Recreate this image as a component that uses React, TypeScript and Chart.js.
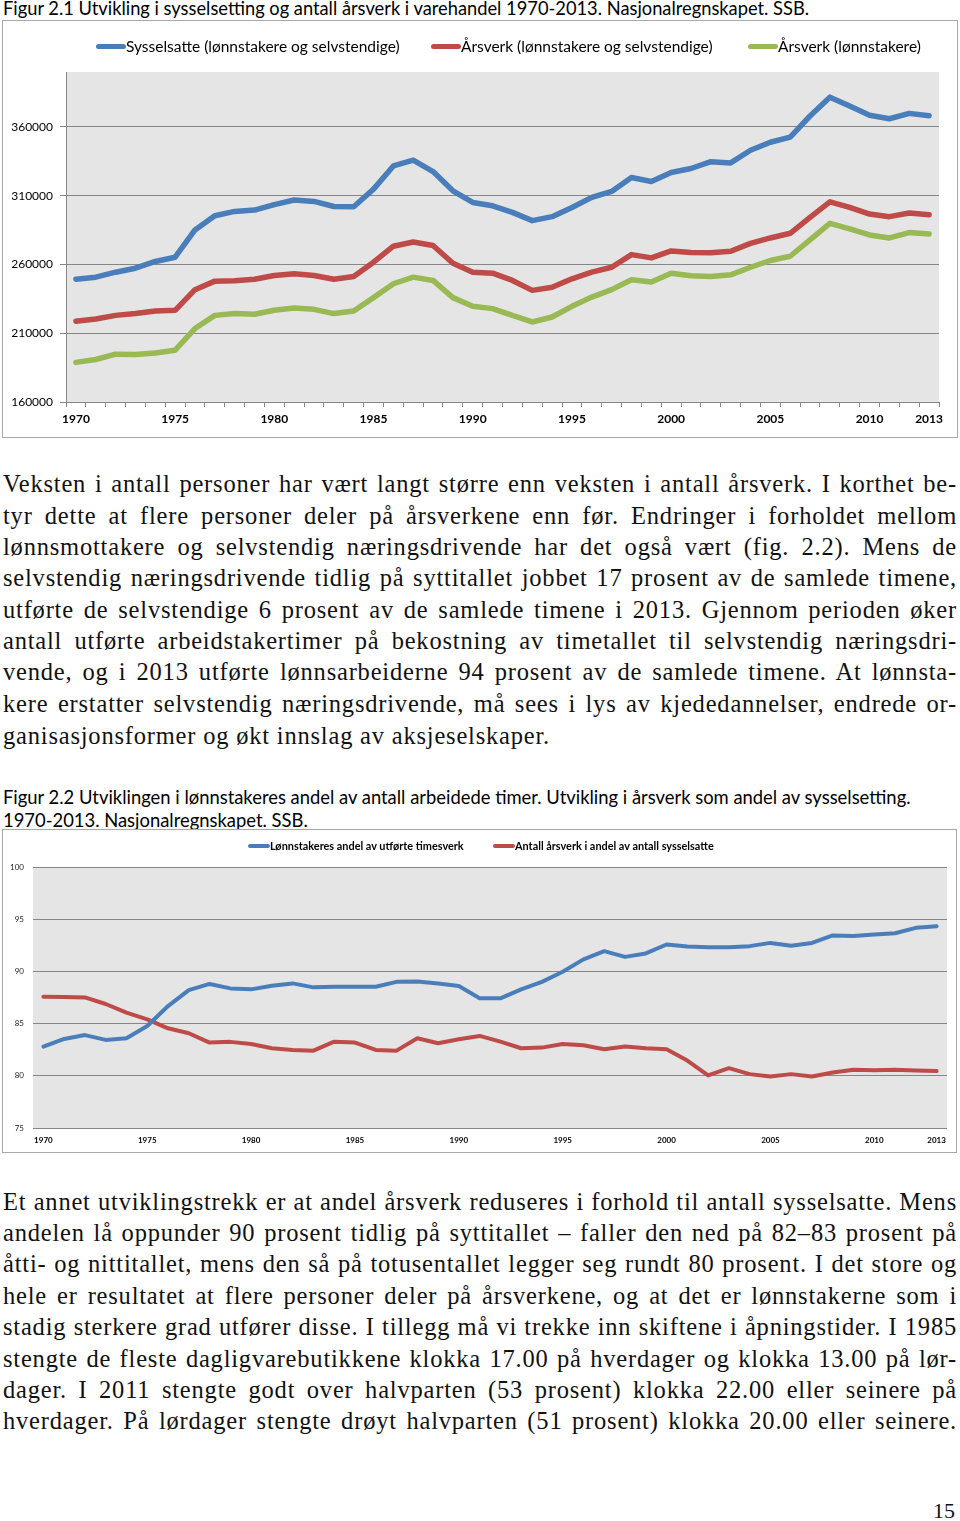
import React, { useEffect, useLayoutEffect, useRef } from "react";
import { Chart, registerables } from "chart.js";

Chart.register(...registerables);

// ---------- DATA ----------
const years = [
  "1970","1971","1972","1973","1974","1975","1976","1977","1978","1979",
  "1980","1981","1982","1983","1984","1985","1986","1987","1988","1989",
  "1990","1991","1992","1993","1994","1995","1996","1997","1998","1999",
  "2000","2001","2002","2003","2004","2005","2006","2007","2008","2009",
  "2010","2011","2012","2013",
];
const shownYearLabels1 = ["1970","1975","1980","1985","1990","1995","2000","2005","2010","2013"];
const shownYearLabels2 = ["1970","1975","1980","1985","1990","1995","2000","2005","2010","2013"];

const sysselsatte = [
  249300, 250800, 254400, 257300, 262200, 265300, 285100, 295500, 298600, 299600,
  303500, 306900, 305900, 302200, 302000, 314800, 331700, 335900, 327600, 313600,
  305100, 302700, 297900, 291900, 294800, 301500, 308800, 313100, 323300, 320400,
  326900, 329800, 334800, 333900, 343100, 348900, 352700, 368000, 381700, 375200,
  368500, 366000, 369900, 368200,
];
const aarsverkAlle = [
  218700, 220400, 223000, 224300, 226200, 226700, 241700, 247900, 248200, 249300,
  252000, 253300, 252000, 249300, 251300, 261700, 273300, 276400, 273800, 260900,
  254400, 253700, 248400, 241200, 243500, 249600, 254400, 258000, 267200, 264800,
  269900, 268700, 268500, 269600, 275400, 279300, 282700, 294300, 305600, 301500,
  296700, 294800, 297500, 296200,
];
const aarsverkLonnstakere = [
  188800, 190900, 194800, 194600, 195700, 197700, 213400, 223000, 224300, 223800,
  226700, 228300, 227400, 224300, 226200, 235900, 246000, 250800, 248400, 235900,
  229600, 227900, 223000, 218200, 221800, 229600, 236300, 241700, 248900, 247200,
  253700, 251800, 251300, 252500, 258000, 262900, 266000, 277900, 289900, 285900,
  281500, 279300, 283200, 282200,
];
const yTicks1 = [160000, 210000, 260000, 310000, 360000];

const lonnstakerAndel = [
  82.8, 83.53, 83.9, 83.44, 83.6, 84.77, 86.68, 88.2, 88.8, 88.37,
  88.28, 88.62, 88.85, 88.47, 88.53, 88.53, 88.53, 89.0, 89.04, 88.85,
  88.6, 87.42, 87.42, 88.28, 89.0, 89.96, 91.15, 91.94, 91.39, 91.72,
  92.58, 92.39, 92.32, 92.32, 92.42, 92.73, 92.45, 92.73, 93.44, 93.4,
  93.53, 93.66, 94.17, 94.33,
];
const aarsverkAndel = [
  87.57, 87.54, 87.51, 86.88, 86.05, 85.41, 84.55, 84.08, 83.18, 83.25,
  83.05, 82.64, 82.48, 82.41, 83.27, 83.18, 82.48, 82.41, 83.6, 83.12,
  83.5, 83.82, 83.27, 82.64, 82.7, 83.05, 82.93, 82.55, 82.8, 82.64,
  82.55, 81.46, 80.03, 80.73, 80.16, 79.93, 80.16, 79.93, 80.31, 80.57,
  80.54, 80.57, 80.5, 80.45,
];

const BLUE = "#4a7ebb";
const RED = "#be4b48";
const GREEN = "#98b954";
const GRID = "#868686";
const PLOT_BG = "#e5e5e5";
const SANS = "Lato, 'Noto Sans', sans-serif";
const SERIF = "'Liberation Serif', 'DejaVu Serif', serif";

const plotBg = {
  id: "plotBg",
  beforeDraw(chart: any, _args: any, opts: any) {
    const { ctx, chartArea } = chart;
    ctx.save();
    ctx.fillStyle = opts.color || PLOT_BG;
    ctx.fillRect(chartArea.left, chartArea.top, chartArea.right - chartArea.left, chartArea.bottom - chartArea.top);
    ctx.restore();
  },
};

function useChart(ref: React.RefObject<HTMLCanvasElement | null>, makeConfig: () => any) {
  useEffect(() => {
    if (!ref.current) return;
    const chart = new Chart(ref.current, makeConfig());
    return () => chart.destroy();
  }, []);
}

function Chart1() {
  const ref = useRef<HTMLCanvasElement>(null);
  useChart(ref, () => ({
    type: "line",
    data: {
      labels: years,
      datasets: [
        { label: "Sysselsatte (lønnstakere og selvstendige)", data: sysselsatte, borderColor: BLUE, backgroundColor: BLUE },
        { label: "Årsverk (lønnstakere og selvstendige)", data: aarsverkAlle, borderColor: RED, backgroundColor: RED },
        { label: "Årsverk (lønnstakere)", data: aarsverkLonnstakere, borderColor: GREEN, backgroundColor: GREEN },
      ],
    },
    plugins: [plotBg],
    options: {
      animation: false,
      responsive: false,
      maintainAspectRatio: false,
      layout: { padding: { top: 51, right: 18, bottom: 0, left: 0 } },
      elements: {
        point: { radius: 0 },
        line: { borderWidth: 5.5, tension: 0, borderJoinStyle: "round", borderCapStyle: "round" },
      },
      plugins: { legend: { display: false }, tooltip: { enabled: false }, plotBg: { color: PLOT_BG } },
      scales: {
        x: {
          offset: true,
          grid: { offset: true, drawOnChartArea: false, tickLength: 5, color: GRID },
          border: { color: GRID },
          ticks: {
            autoSkip: false,
            maxRotation: 0,
            padding: 5,
            color: "#000",
            font: { family: SANS, size: 12, weight: "bold" },
            callback: (_v: any, i: number) => (shownYearLabels1.includes(years[i]) ? years[i] : ""),
          },
          afterFit: (s: any) => { s.height = 35; },
        },
        y: {
          min: 160000,
          max: 400000,
          ticks: {
            stepSize: 50000,
            padding: 7,
            color: "#000",
            font: { family: SANS, size: 12 },
            callback: (v: any) => String(v),
          },
          afterBuildTicks: (s: any) => { s.ticks = yTicks1.map((v) => ({ value: v })); },
          grid: { color: GRID, tickLength: 6 },
          border: { color: GRID },
          afterFit: (s: any) => { s.width = 63; },
        },
      },
    },
  }));
  return <canvas ref={ref} width={954} height={416} style={{ position: "absolute", left: 3, top: 21, width: 954, height: 416 }} />;
}

function Chart2() {
  const ref = useRef<HTMLCanvasElement>(null);
  useChart(ref, () => ({
    type: "line",
    data: {
      labels: years,
      datasets: [
        { label: "Lønnstakeres andel av utførte timesverk", data: lonnstakerAndel, borderColor: BLUE, backgroundColor: BLUE },
        { label: "Antall årsverk i andel av antall sysselsatte", data: aarsverkAndel, borderColor: RED, backgroundColor: RED },
      ],
    },
    plugins: [plotBg],
    options: {
      animation: false,
      responsive: false,
      maintainAspectRatio: false,
      layout: { padding: { top: 37, right: 9, bottom: 0, left: 0 } },
      elements: {
        point: { radius: 0 },
        line: { borderWidth: 4, tension: 0, borderJoinStyle: "round", borderCapStyle: "round" },
      },
      plugins: { legend: { display: false }, tooltip: { enabled: false }, plotBg: { color: PLOT_BG } },
      scales: {
        x: {
          offset: true,
          grid: { display: false, drawTicks: false },
          border: { display: false },
          ticks: {
            autoSkip: false,
            maxRotation: 0,
            padding: 8,
            color: "#000",
            font: { family: SANS, size: 8, weight: "bold" },
            callback: (_v: any, i: number) => (shownYearLabels2.includes(years[i]) ? years[i] : ""),
          },
          afterFit: (s: any) => { s.height = 24; },
        },
        y: {
          min: 75,
          max: 100,
          ticks: { stepSize: 5, padding: 9, color: "#222", font: { family: SANS, size: 8 } },
          grid: { color: GRID, drawTicks: false },
          border: { display: false },
          afterFit: (s: any) => { s.width = 30; },
        },
      },
    },
  }));
  return <canvas ref={ref} width={953} height={322} style={{ position: "absolute", left: 3, top: 830, width: 953, height: 322 }} />;
}

function LegendItem(props: { left: number; top: number; color: string; text: string; mw: number; mh: number; size: number; bold?: boolean }) {
  const { left, top, color, text, mw, mh, size, bold } = props;
  return (
    <div style={{ position: "absolute", left, top, height: 20, display: "flex", alignItems: "center", whiteSpace: "nowrap" }}>
      <div style={{ width: mw, height: mh, borderRadius: mh / 2, background: color }} />
      <span style={{ fontFamily: SANS, fontSize: size, fontWeight: bold ? 700 : 400, color: "#000", lineHeight: "20px" }}>{text}</span>
    </div>
  );
}

function Line(props: { text: string; top: number; justify: boolean }) {
  const ref = useRef<HTMLDivElement>(null);
  useLayoutEffect(() => {
    const el = ref.current;
    if (!el) return;
    const inner = el.firstChild as HTMLElement;
    const w = inner.scrollWidth;
    if (w > 954) inner.style.transform = `scaleX(${954 / w})`;
  }, []);
  return (
    <div ref={ref} style={{ position: "absolute", left: 3, top: props.top - 16, width: 954, height: 32 }}>
      <div
        style={{
          width: 954,
          whiteSpace: "nowrap",
          transformOrigin: "left center",
          fontFamily: SERIF,
          fontSize: 24.5,
          letterSpacing: "0.8px",
          lineHeight: "32px",
          color: "#111",
          textAlign: props.justify ? "justify" : "left",
          textAlignLast: props.justify ? "justify" : "left",
        } as any}
      >
        {props.text}
      </div>
    </div>
  );
}

const para1 = [
  "Veksten i antall personer har vært langt større enn veksten i antall årsverk. I korthet be-",
  "tyr dette at flere personer deler på årsverkene enn før. Endringer i forholdet mellom",
  "lønnsmottakere og selvstendig næringsdrivende har det også vært (fig. 2.2). Mens de",
  "selvstendig næringsdrivende tidlig på syttitallet jobbet 17 prosent av de samlede timene,",
  "utførte de selvstendige 6 prosent av de samlede timene i 2013. Gjennom perioden øker",
  "antall utførte arbeidstakertimer på bekostning av timetallet til selvstendig næringsdri-",
  "vende, og i 2013 utførte lønnsarbeiderne 94 prosent av de samlede timene. At lønnsta-",
  "kere erstatter selvstendig næringsdrivende, må sees i lys av kjededannelser, endrede or-",
  "ganisasjonsformer og økt innslag av aksjeselskaper.",
];
const para1Y = [484, 516, 547, 578, 610, 641, 672, 704, 736];
const para2 = [
  "Et annet utviklingstrekk er at andel årsverk reduseres i forhold til antall sysselsatte. Mens",
  "andelen lå oppunder 90 prosent tidlig på syttitallet – faller den ned på 82–83 prosent på",
  "åtti- og nittitallet, mens den så på totusentallet legger seg rundt 80 prosent. I det store og",
  "hele er resultatet at flere personer deler på årsverkene, og at det er lønnstakerne som i",
  "stadig sterkere grad utfører disse. I tillegg må vi trekke inn skiftene i åpningstider. I 1985",
  "stengte de fleste dagligvarebutikkene klokka 17.00 på hverdager og klokka 13.00 på lør-",
  "dager. I 2011 stengte godt over halvparten (53 prosent) klokka 22.00 eller seinere på",
  "hverdager. På lørdager stengte drøyt halvparten (51 prosent) klokka 20.00 eller seinere.",
];
const para2Y = [1202, 1233, 1264, 1296, 1327, 1359, 1390, 1421];

export default function App() {
  return (
    <div style={{ position: "absolute", left: 0, top: 0, width: 960, height: 1521, background: "#fff", overflow: "hidden" }}>
      <div style={{ position: "absolute", left: 3, top: -2, fontFamily: SANS, fontSize: 18.3, lineHeight: "20px", color: "#000", whiteSpace: "nowrap" }}>
        Figur 2.1 Utvikling i sysselsetting og antall årsverk i varehandel 1970-2013. Nasjonalregnskapet. SSB.
      </div>
      <div style={{ position: "absolute", left: 2, top: 20, width: 956, height: 418, border: "1px solid #a8a8a8", boxSizing: "border-box" }} />
      <Chart1 />
      <LegendItem left={96} top={36} color={BLUE} text="Sysselsatte (lønnstakere og selvstendige)" mw={30} mh={5} size={15.5} />
      <LegendItem left={431} top={36} color={RED} text="Årsverk (lønnstakere og selvstendige)" mw={30} mh={5} size={15.5} />
      <LegendItem left={748} top={36} color={GREEN} text="Årsverk (lønnstakere)" mw={30} mh={5} size={15.5} />

      {para1.map((t, i) => (
        <Line key={"p1" + i} text={t} top={para1Y[i]} justify={i < para1.length - 1} />
      ))}

      <div style={{ position: "absolute", left: 3, top: 786, fontFamily: SANS, fontSize: 18.4, lineHeight: "23px", color: "#000", whiteSpace: "nowrap" }}>
        Figur 2.2 Utviklingen i lønnstakeres andel av antall arbeidede timer. Utvikling i årsverk som andel av sysselsetting.
        <br />
        1970-2013. Nasjonalregnskapet. SSB.
      </div>
      <div style={{ position: "absolute", left: 2, top: 829, width: 955, height: 324, border: "1px solid #a8a8a8", boxSizing: "border-box" }} />
      <Chart2 />
      <LegendItem left={248} top={836} color={BLUE} text="Lønnstakeres andel av utførte timesverk" mw={22} mh={4} size={10.9} bold />
      <LegendItem left={493} top={836} color={RED} text="Antall årsverk i andel av antall sysselsatte" mw={22} mh={4} size={10.9} bold />

      {para2.map((t, i) => (
        <Line key={"p2" + i} text={t} top={para2Y[i]} justify={true} />
      ))}

      <div style={{ position: "absolute", left: 933, top: 1497, fontFamily: SERIF, fontSize: 22, lineHeight: "28px", color: "#111" }}>15</div>
    </div>
  );
}
